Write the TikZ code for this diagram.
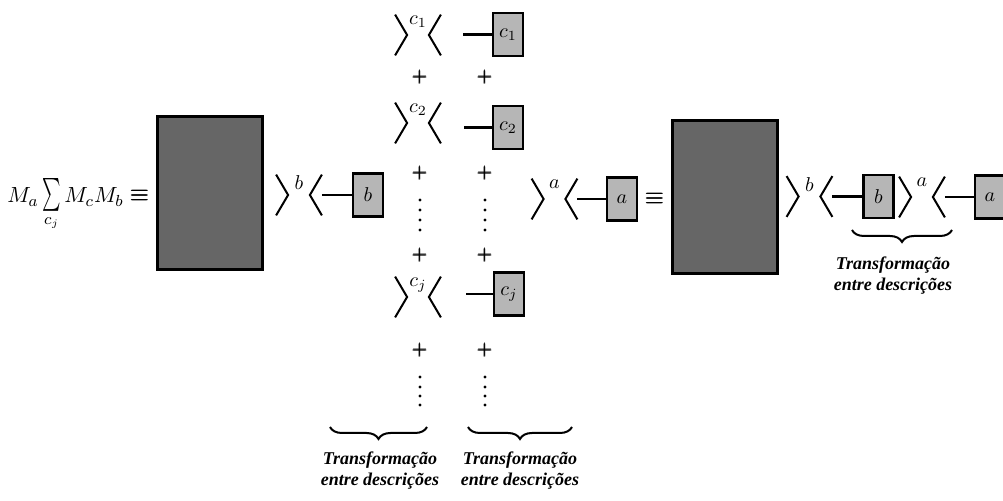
\documentclass[tikz,border=0pt]{standalone}
\usepackage{amsmath}
\usepackage{graphicx}
\usepackage{fontspec}
\newfontfamily\capfont{Liberation Serif}
\usepackage{tikz}
\usetikzlibrary{decorations.pathreplacing}
\definecolor{darkbox}{RGB}{102,102,102}
\definecolor{lightbox}{RGB}{182,182,182}
\tikzset{
  bigbox/.style={draw, line width=1.5pt, fill=darkbox, minimum width=52.5pt,
    minimum height=76.5pt, inner sep=0pt},
  smallbox/.style={draw, line width=1.4pt, fill=lightbox, minimum width=15pt,
    minimum height=21.5pt, inner sep=0pt},
  ket/.style={minimum width=22.5pt, minimum height=20pt, inner sep=0pt},
  chev/.style={line width=1pt},
  leg/.style={line width=1.2pt},
  lab/.style={inner sep=0.5pt},
  plus/.style={inner sep=0pt},
  eqv/.style={inner sep=0pt, font=\large},
  brc/.style={decorate, decoration={brace, mirror, amplitude=6pt}, line width=1pt},
  captxt/.style={font=\capfont\bfseries\itshape\fontsize{9}{10.5}\selectfont,
    align=center, inner sep=0pt}
}

\begin{document}
\begin{tikzpicture}[x=0.5pt, y=-0.5pt]
  \useasboundingbox (0,0) rectangle (1003,501);
  % left part
  \node[inner sep=0pt, anchor=base west, font=\fontsize{11}{13}\selectfont] (fm) at (7,203)
    {$M_a\mathop{\scalebox{0.8}[1.5]{$\sum$}}\limits_{c_j}M_cM_b$};
  \node[eqv] (eqL) at (140,196) {$\pmb{\equiv}$};
  \node[bigbox] (bigL) at (209.5,193.5) {};
  \node[ket] (kb) at (299,195) {};
  \node[smallbox] (bL) at (368,195) {$b$};
  % the sum over c_j
  \node[ket] (k1) at (418,35) {};
  \node[ket] (k2) at (418,123) {};
  \node[ket] (kj) at (418,297) {};
  \node[smallbox] (c1) at (508,34.5) {$c_1$};
  \node[smallbox] (c2) at (508,127.5) {$c_2$};
  \node[smallbox] (cj) at (509,294) {$c_j$};
  \coordinate (e1) at (463,34.5);
  \coordinate (e2) at (464,127.5);
  \coordinate (ej) at (466,294);
  \foreach \y [count=\i] in {77,173,255,350} {
    \node[plus] (pk\i) at (420,\y) {$\pmb{+}$};
    \node[plus] (pc\i) at (485,\y) {$\pmb{+}$};
  }
  \foreach \y in {200,210,220,230,377,387,396,405} {
    \fill (420,\y) circle (0.8pt);
    \fill (485,\y) circle (0.8pt);
  }
  % right part
  \node[ket] (ka) at (554.5,199) {};
  \node[smallbox] (aM) at (622,199) {$a$};
  \node[eqv] (eqR) at (655,199) {$\pmb{\equiv}$};
  \node[bigbox] (bigR) at (725,197.5) {};
  \node[ket] (kb2) at (809.5,196.5) {};
  \node[smallbox] (bR) at (878.5,196.5) {$b$};
  \node[ket] (ka2) at (922,197) {};
  \node[smallbox] (aR) at (990,197) {$a$};
  \foreach \k/\t in {kb/b, k1/c_1, k2/c_2, kj/c_j, ka/a, kb2/b, ka2/a} {
    \draw[chev] (\k.north west) -- ([xshift=6pt]\k.west) -- (\k.south west)
                (\k.north east) -- ([xshift=-6pt]\k.east) -- (\k.south east);
    \node[lab, anchor=north] (\k-t) at (\k.north) {$\t$};
  }
  \draw[leg] (kb.east) -- (bL.west);
  \draw[leg] (e1) -- (c1.west);
  \draw[leg] (e2) -- (c2.west);
  \draw[leg] (ej) -- (cj.west);
  \draw[leg] (ka.east) -- (aM.west);
  \draw[leg] (kb2.east) -- (bR.west);
  \draw[leg] (ka2.east) -- (aR.west);
  % braces
  \draw[brc] (330,427) -- (427,427);
  \draw[brc] (468,427) -- (572,427);
  \draw[brc] (852,230) -- (952,230);
  \node[captxt] (t1) at (380,471) {Transformação\\entre descrições};
  \node[captxt] (t2) at (520,471) {Transformação\\entre descrições};
  \node[captxt] (t3) at (893,276) {Transformação\\entre descrições};
\end{tikzpicture}
\end{document}
